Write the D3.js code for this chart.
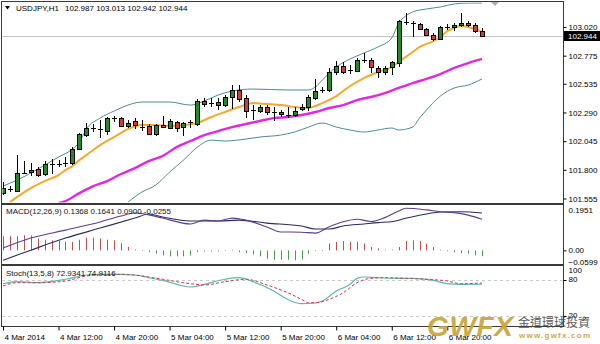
<!DOCTYPE html>
<html>
<head>
<meta charset="utf-8">
<script src="https://cdn.jsdelivr.net/npm/d3@7"></script>
<style>
  body { margin: 0; background: #fff; }
  svg { display: block; font-family: "Liberation Sans", Arial, sans-serif; }
</style>
</head>
<body>
<script>
// USDJPY H1 candles, 4 Mar 04:00 .. 7 Mar 01:00
const opens = [101.601,101.640,101.620,101.772,101.781,101.806,101.764,101.849,101.852,101.849,
  101.858,101.977,102.097,102.157,102.157,102.131,102.242,102.242,102.174,102.217,
  102.174,102.174,102.105,102.182,102.157,102.208,102.165,102.200,102.191,102.388,
  102.365,102.353,102.353,102.422,102.482,102.413,102.302,102.302,102.336,102.294,
  102.294,102.276,102.268,102.320,102.336,102.413,102.478,102.482,102.635,102.687,
  102.652,102.644,102.738,102.738,102.670,102.635,102.678,102.712,103.063,103.054,
  103.046,103.003,102.952,102.917,103.020,103.020,103.037,103.054,103.037,102.987];
const highs = [101.695,101.661,101.926,101.875,101.858,101.823,101.875,101.892,101.885,101.909,
  101.995,102.114,102.200,102.190,102.225,102.250,102.259,102.250,102.225,102.242,
  102.225,102.190,102.190,102.259,102.235,102.217,102.208,102.225,102.405,102.413,
  102.413,102.413,102.440,102.524,102.524,102.440,102.353,102.353,102.353,102.336,
  102.311,102.336,102.336,102.360,102.440,102.576,102.510,102.670,102.729,102.721,
  102.695,102.755,102.798,102.755,102.687,102.687,102.729,103.080,103.140,103.071,
  103.054,103.011,102.969,103.025,103.046,103.054,103.140,103.071,103.054,103.013];
const lows = [101.584,101.610,101.610,101.764,101.747,101.740,101.747,101.764,101.823,101.823,
  101.840,101.968,102.080,102.123,102.071,102.097,102.208,102.165,102.157,102.148,
  102.131,102.097,102.088,102.160,102.150,102.123,102.088,102.157,102.174,102.336,
  102.336,102.311,102.336,102.319,102.379,102.242,102.225,102.285,102.268,102.217,
  102.250,102.242,102.250,102.300,102.302,102.396,102.455,102.464,102.610,102.618,
  102.618,102.635,102.712,102.627,102.584,102.610,102.610,102.678,103.037,102.935,
  102.994,102.943,102.900,102.910,102.994,102.986,103.020,103.020,102.969,102.942];
const closes = [101.644,101.635,101.772,101.775,101.798,101.755,101.849,101.852,101.849,101.858,
  101.977,102.105,102.157,102.160,102.150,102.242,102.245,102.174,102.200,102.182,
  102.170,102.105,102.182,102.165,102.217,102.157,102.200,102.205,102.388,102.362,
  102.370,102.379,102.422,102.482,102.405,102.302,102.311,102.336,102.294,102.290,
  102.276,102.268,102.302,102.336,102.422,102.473,102.482,102.635,102.687,102.635,
  102.655,102.738,102.742,102.678,102.635,102.670,102.721,103.071,103.065,103.058,
  103.003,102.952,102.917,103.020,103.022,103.037,103.054,103.037,102.987,102.944];

// indicator lines, [candle index, value]
const maFast = [[1,101.524],[2,101.567],[4,101.644],[6,101.704],[8,101.755],[9,101.798],[10,101.832],
  [11,101.883],[12,101.926],[14,102.011],[16,102.080],[18,102.148],[20,102.182],[22,102.182],
  [24,102.174],[26,102.182],[28,102.200],[30,102.251],[32,102.294],[34,102.336],[36,102.370],
  [38,102.362],[40,102.353],[42,102.336],[44,102.328],[45,102.345],[46,102.370],[48,102.430],
  [50,102.516],[52,102.584],[54,102.635],[56,102.678],[57,102.721],[58,102.764],[59,102.806],
  [60,102.849],[62,102.900],[63,102.935],[64,102.986],[65,103.011],[66,103.029],[67,103.020],
  [68,103.003],[69,102.977]];
const maSlow = [[8,101.516],[9,101.533],[11,101.601],[13,101.661],[15,101.704],[17,101.764],
  [19,101.815],[21,101.875],[23,101.918],[25,101.994],[27,102.046],[29,102.097],[31,102.131],
  [33,102.165],[35,102.191],[37,102.217],[39,102.242],[41,102.251],[43,102.268],[45,102.294],
  [47,102.328],[49,102.353],[51,102.396],[53,102.422],[55,102.456],[57,102.499],[59,102.541],
  [61,102.576],[63,102.618],[65,102.670],[67,102.712],[69,102.747]];
const bandUpper = [[0,101.661],[2,101.712],[4,101.772],[6,101.840],[8,101.909],[10,101.977],
  [11,102.037],[12,102.148],[14,102.242],[16,102.302],[18,102.353],[20,102.379],[24,102.379],
  [27,102.353],[29,102.388],[31,102.439],[33,102.473],[36,102.490],[41,102.482],[44,102.482],
  [45,102.507],[46,102.567],[48,102.678],[50,102.747],[52,102.798],[54,102.849],[56,102.926],
  [57,103.054],[58,103.114],[59,103.148],[61,103.174],[63,103.191],[65,103.217],[67,103.225],
  [69,103.225]];
const bandLower = [[18,101.524],[20,101.610],[22,101.670],[24,101.781],[26,101.883],[28,101.994],
  [30,102.054],[32,102.046],[35,102.063],[37,102.080],[40,102.097],[42,102.123],[44,102.165],
  [46,102.200],[48,102.165],[50,102.140],[52,102.123],[54,102.140],[56,102.157],[57,102.140],
  [59,102.165],[60,102.242],[61,102.311],[63,102.430],[65,102.499],[67,102.524],[69,102.576]];

const macdHist = [0.062,0.062,0.062,0.066,0.066,0.052,0.047,0.044,0.041,0.037,
  0.037,0.047,0.056,0.056,0.052,0.047,0.044,0.032,0.015,0.004,
  -0.003,-0.008,-0.015,-0.022,-0.026,-0.026,-0.026,-0.022,-0.008,-0.004,
  -0.004,-0.004,-0.003,0.003,-0.008,-0.012,-0.018,-0.026,-0.037,-0.041,
  -0.041,-0.041,-0.044,-0.040,-0.015,-0.003,-0.003,0.030,0.037,0.041,
  0.037,0.037,0.030,0.015,0.008,0.003,0.003,0.015,0.041,0.044,
  0.041,0.030,0.015,0.003,-0.004,-0.008,-0.012,-0.015,-0.022,-0.0255];
const macdMain = [[0,0.010],[4,0.054],[9,0.089],[14,0.125],[17,0.151],[19,0.164],[21,0.156],
  [23,0.142],[27,0.116],[29,0.133],[31,0.129],[33,0.142],[35,0.133],[38,0.103],[40,0.081],
  [43,0.080],[45,0.076],[47,0.104],[49,0.126],[51,0.137],[53,0.127],[55,0.144],[57,0.173],
  [58,0.185],[61,0.178],[63,0.170],[65,0.166],[67,0.155],[69,0.1368]];
const macdSignal = [[0,-0.043],[4,0.001],[9,0.054],[14,0.098],[19,0.142],[21,0.160],[23,0.147],
  [27,0.129],[31,0.129],[34,0.133],[38,0.120],[43,0.107],[45,0.094],[47,0.094],[49,0.107],
  [52,0.116],[54,0.122],[56,0.126],[58,0.141],[61,0.160],[63,0.169],[66,0.170],[69,0.1641]];

const stochMain = [[0,73.8],[2,77.2],[5,75.5],[9,81.2],[12,88.3],[14,89.5],[17,89.5],[19,88.3],
  [21,83.8],[23,79.5],[27,68.3],[29,72.8],[32,81.2],[34,83.8],[36,77.2],[39,61.7],[41,47.8],
  [43,40.5],[45,41.7],[46,45.0],[48,61.7],[50,72.8],[51,82.8],[52,85.0],[54,83.8],[57,82.8],
  [59,82.8],[62,79.5],[64,73.8],[66,72.8],[69,72.93]];
const stochSignal = [[0,70.0],[2,75.5],[5,75.5],[9,78.3],[12,86.7],[16,89.5],[19,88.3],[21,85.0],
  [23,81.2],[27,73.8],[29,71.7],[32,77.2],[35,81.2],[38,71.7],[41,58.8],[43,47.8],[44,42.2],
  [45,42.2],[47,47.8],[49,58.8],[51,75.5],[53,82.8],[55,83.8],[58,82.8],[61,81.2],[64,78.3],
  [66,73.8],[69,74.91]];

const priceTicks = [103.020, 102.775, 102.535, 102.290, 102.045, 101.800, 101.555];
const macdTicks = [0.1951, 0, -0.0599];
const stochTicks = [100, 80, 20];
const stochLevels = [80, 20];
const timeTickIdx = [0, 8, 16, 24, 32, 40, 48, 56, 64];
const timeTickLabels = ["4 Mar 2014", "4 Mar 12:00", "4 Mar 20:00", "5 Mar 04:00", "5 Mar 12:00",
  "5 Mar 20:00", "6 Mar 04:00", "6 Mar 12:00", "6 Mar 20:00"];

const mainTitle = "USDJPY,H1";
const mainTitleValues = "102.987 103.013 102.942 102.944";
const macdTitle = "MACD(12,26,9) 0.1368 0.1641 0.0900 -0.0255";
const stochTitle = "Stoch(13,5,8) 72.9341 74.9116";
const lastPrice = 102.944;

const BULL = "#2a862a";
const BEAR = "#d23a36";
const FRAME = "#3a3a3a";

function drawChart() {
  const width = 600;
  const height = 344;
  const left = 2, right = 563;
  const panels = {
    main: { top: 2, bottom: 203 },
    macd: { top: 205, bottom: 264 },
    stoch: { top: 266, bottom: 326 }
  };

  const svg = d3.select("body").append("svg")
    .attr("width", width)
    .attr("height", height);

  const defs = svg.append("defs");
  Object.keys(panels).forEach(k => {
    defs.append("clipPath").attr("id", "clip-" + k)
      .append("rect")
      .attr("x", left + 0.5).attr("y", panels[k].top + 0.5)
      .attr("width", right - left - 1).attr("height", panels[k].bottom - panels[k].top - 1);
  });

  const x = d3.scaleLinear().domain([0, 69]).range([3, 482]);
  const px = i => Math.round(x(i)) + 0.5;

  const yMain = d3.scaleLinear().domain([101.555, 103.020]).range([198.5, 27]);
  const yMacd = d3.scaleLinear().domain([-0.0599, 0.1951]).range([264, 206]);
  const yStoch = d3.scaleLinear().domain([0, 100]).range([328, 268]);

  // ---- main panel ----
  const main = svg.append("g").attr("clip-path", "url(#clip-main)");

  main.append("line")
    .attr("x1", left).attr("x2", right)
    .attr("y1", Math.round(yMain(lastPrice)) + 0.5).attr("y2", Math.round(yMain(lastPrice)) + 0.5)
    .attr("stroke", "#c4c4c4");

  const line = yScale => d3.line()
    .x(d => x(d[0]))
    .y(d => yScale(d[1]))
    .curve(d3.curveMonotoneX);

  main.append("path").datum(bandUpper).attr("d", line(yMain))
    .attr("fill", "none").attr("stroke", "#4f8a8f").attr("stroke-width", 1);
  main.append("path").datum(bandLower).attr("d", line(yMain))
    .attr("fill", "none").attr("stroke", "#4f8a8f").attr("stroke-width", 1);
  main.append("path").datum(maSlow).attr("d", line(yMain))
    .attr("fill", "none").attr("stroke", "#e028e0").attr("stroke-width", 2.4);
  main.append("path").datum(maFast).attr("d", line(yMain))
    .attr("fill", "none").attr("stroke", "#f2a92c").attr("stroke-width", 2);

  const candles = opens.map((o, i) => ({ i, o, h: highs[i], l: lows[i], c: closes[i] }));

  main.selectAll("line.wick")
    .data(candles)
    .enter()
    .append("line")
    .attr("class", "wick")
    .attr("x1", d => px(d.i)).attr("x2", d => px(d.i))
    .attr("y1", d => Math.round(yMain(d.h))).attr("y2", d => Math.round(yMain(d.l)))
    .attr("stroke", "#000");

  const isDoji = d => Math.abs(yMain(d.o) - yMain(d.c)) < 1.5;

  main.selectAll("rect.body")
    .data(candles.filter(d => !isDoji(d)))
    .enter()
    .append("rect")
    .attr("class", "body")
    .attr("x", d => Math.round(x(d.i)) - 1.5)
    .attr("width", 4)
    .attr("y", d => Math.round(yMain(Math.max(d.o, d.c))) + 0.5)
    .attr("height", d => Math.max(1, Math.round(yMain(Math.min(d.o, d.c))) - Math.round(yMain(Math.max(d.o, d.c)))))
    .attr("fill", d => (d.c >= d.o ? BULL : BEAR))
    .attr("stroke", "#000");

  main.selectAll("line.doji")
    .data(candles.filter(isDoji))
    .enter()
    .append("line")
    .attr("class", "doji")
    .attr("x1", d => Math.round(x(d.i)) - 2).attr("x2", d => Math.round(x(d.i)) + 3)
    .attr("y1", d => Math.round(yMain(d.c)) + 0.5).attr("y2", d => Math.round(yMain(d.c)) + 0.5)
    .attr("stroke", "#000");

  // chart shift marker
  svg.append("path")
    .attr("d", "M491,2 L499,2 L495,6 Z")
    .attr("fill", "#b0b0b0");

  // ---- MACD panel ----
  const macd = svg.append("g").attr("clip-path", "url(#clip-macd)");
  macd.selectAll("line.hist")
    .data(macdHist)
    .enter()
    .append("line")
    .attr("class", "hist")
    .attr("x1", (d, i) => px(i)).attr("x2", (d, i) => px(i))
    .attr("y1", yMacd(0))
    .attr("y2", d => yMacd(d))
    .attr("stroke", d => (d >= 0 ? "#c0504d" : "#4f9a4f"))
    .attr("stroke-width", 1);
  macd.append("path").datum(macdSignal).attr("d", line(yMacd))
    .attr("fill", "none").attr("stroke", "#2b2b63").attr("stroke-width", 1.1);
  macd.append("path").datum(macdMain).attr("d", line(yMacd))
    .attr("fill", "none").attr("stroke", "#5b3f8e").attr("stroke-width", 1.1);

  // ---- Stochastic panel ----
  const stoch = svg.append("g").attr("clip-path", "url(#clip-stoch)");
  stoch.selectAll("line.level")
    .data(stochLevels)
    .enter()
    .append("line")
    .attr("class", "level")
    .attr("x1", left).attr("x2", right)
    .attr("y1", d => Math.round(yStoch(d)) + 0.5).attr("y2", d => Math.round(yStoch(d)) + 0.5)
    .attr("stroke", "#c8c8c8")
    .attr("stroke-dasharray", "3,3");
  stoch.append("path").datum(stochMain).attr("d", line(yStoch))
    .attr("fill", "none").attr("stroke", "#5cb8b0").attr("stroke-width", 1.2);
  stoch.append("path").datum(stochSignal).attr("d", line(yStoch))
    .attr("fill", "none").attr("stroke", "#d43c3c").attr("stroke-width", 1)
    .attr("stroke-dasharray", "3,2");

  // ---- frames ----
  Object.keys(panels).forEach(k => {
    svg.append("rect")
      .attr("x", left - 0.5).attr("y", panels[k].top - 0.5)
      .attr("width", right - left + 1).attr("height", panels[k].bottom - panels[k].top + 1)
      .attr("fill", "none").attr("stroke", FRAME);
  });

  // ---- axes ----
  const axisStyle = g => {
    g.select(".domain").remove();
    g.selectAll(".tick line").attr("stroke", "#000");
    g.selectAll(".tick text")
      .attr("fill", "#000")
      .style("font-size", "8px")
      .style("font-family", "Liberation Sans, Arial, sans-serif");
  };

  svg.append("g")
    .attr("transform", `translate(${right + 0.5},0)`)
    .call(d3.axisRight(yMain).tickValues(priceTicks).tickFormat(d3.format(".3f")).tickSize(3).tickPadding(2))
    .call(axisStyle);

  svg.append("g")
    .attr("transform", `translate(${right + 0.5},0)`)
    .call(d3.axisRight(yMacd).tickValues(macdTicks)
      .tickFormat(d => (d === 0 ? "0.00" : d3.format(".4f")(d))).tickSize(3).tickPadding(2))
    .call(axisStyle)
    .call(g => {
      g.selectAll(".tick").filter(d => d !== 0).select("line").remove();
      g.selectAll(".tick text").attr("dy", d => (d > 0.1 ? "0.75em" : d < 0 ? "0.05em" : "0.32em"));
    });

  svg.append("g")
    .attr("transform", `translate(${right + 0.5},0)`)
    .call(d3.axisRight(yStoch).tickValues(stochTicks).tickSize(3).tickPadding(2))
    .call(axisStyle)
    .call(g => {
      g.selectAll(".tick").filter(d => d === 100).select("line").remove();
      g.selectAll(".tick text").attr("dy", d => (d === 100 ? "0.6em" : "0.2em"));
    });

  svg.append("g")
    .attr("transform", `translate(0,${panels.stoch.bottom + 0.5})`)
    .call(d3.axisBottom(x).tickValues(timeTickIdx)
      .tickFormat((d, i) => timeTickLabels[i]).tickSize(4).tickPadding(4))
    .call(axisStyle)
    .call(g => {
      g.selectAll(".tick text").attr("text-anchor", "start").attr("dx", "1");
    });

  // last price box
  const lp = Math.round(yMain(lastPrice));
  svg.append("rect")
    .attr("x", right + 1).attr("y", lp - 5)
    .attr("width", 36).attr("height", 10)
    .attr("fill", "#000");
  svg.append("text")
    .attr("x", right + 5).attr("y", lp + 3)
    .attr("fill", "#fff")
    .style("font-size", "8px")
    .text(d3.format(".3f")(lastPrice));

  // ---- titles ----
  svg.append("path").attr("d", "M5,6 L10,6 L7.5,9.5 Z").attr("fill", "#000");
  svg.append("text").attr("x", 16).attr("y", 11).style("font-size", "8px").text(mainTitle);
  svg.append("text").attr("x", 65).attr("y", 11).style("font-size", "8px").text(mainTitleValues);
  svg.append("text").attr("x", 6).attr("y", 214).style("font-size", "8px").attr("fill", "#111").text(macdTitle);
  svg.append("text").attr("x", 6).attr("y", 276).style("font-size", "8px").attr("fill", "#111").text(stochTitle);

  // ---- watermark ----
  const logo = svg.append("g").attr("opacity", 0.92);
  logo.append("text")
    .attr("x", 427).attr("y", 336)
    .attr("fill", "#c9a43a")
    .style("font-size", "28px")
    .style("font-weight", "bold")
    .style("font-style", "italic")
    .style("font-family", "Liberation Sans, Arial, sans-serif")
    .attr("textLength", 86)
    .text("GWFX");
  logo.append("text")
    .attr("x", 518).attr("y", 327)
    .attr("fill", "#4e4e4e")
    .style("font-size", "12px")
    .style("font-family", "Noto Sans CJK TC, sans-serif")
    .attr("textLength", 72)
    .text("金道環球投資");
  logo.append("text")
    .attr("x", 519).attr("y", 338)
    .attr("fill", "#c9a43a")
    .style("font-size", "8px")
    .style("font-weight", "bold")
    .attr("textLength", 71)
    .text("www.gwfx.com");
}

document.addEventListener("DOMContentLoaded", function() {
  drawChart();
});
</script>
</body>
</html>
